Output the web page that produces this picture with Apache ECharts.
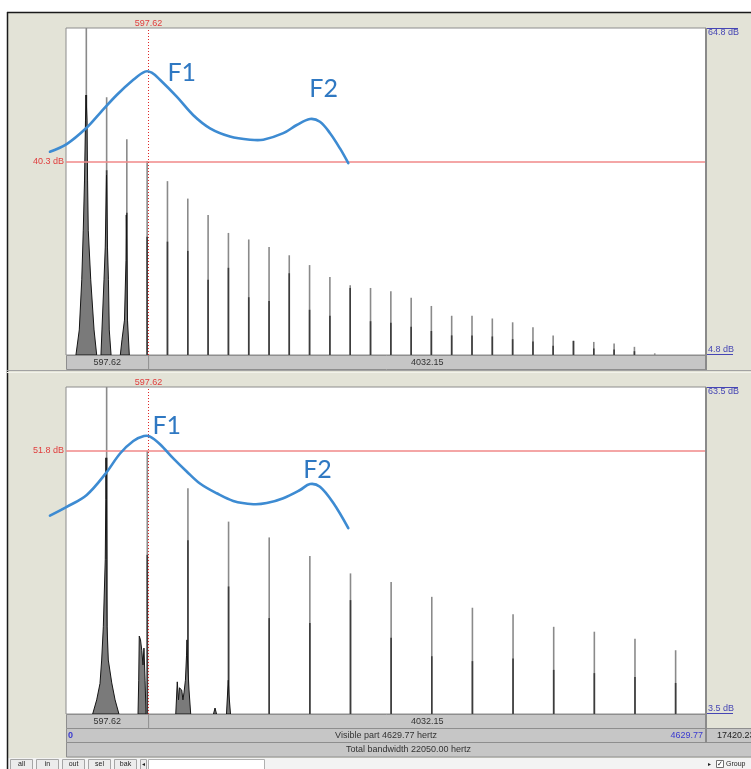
<!DOCTYPE html>
<html><head><meta charset="utf-8">
<script src="https://cdn.jsdelivr.net/npm/echarts@6/dist/echarts.min.js"></script>
<style>html,body{margin:0;padding:0;background:#fff}#c{width:751px;height:769px}</style>
</head><body><div id="c"></div>
<script>
// ---------------- data ----------------
const FMAX = 4629.77;          // visible part (Hz)
const CURSOR = 597.62;         // cursor frequency (Hz)
const TOTAL_BW = '22050.00';
const RIGHT_VALUE = '17420.23';
const topRange = [4.8, 64.8];
const botRange = [3.5, 63.5];
const topCursorDb = 40.3;
const botCursorDb = 51.8;
const topDbLabels = ['64.8 dB', '4.8 dB'];
const botDbLabels = ['63.5 dB', '3.5 dB'];

// upper spectrum: harmonic frequencies, peak tips and darker lower parts (dB)
const topFreq = [147,294,440,587,734,881,1028,1175,1322,1469,1615,1762,1909,2056,2203,2350,2497,2643,2790,2937,3084,3231,3378,3524,3671,3818,3965,4112,4259];
const topTip  = [64.8,52.1,44.4,40.4,36.7,33.5,30.5,27.2,26.0,24.6,23.1,21.3,19.1,17.6,17.1,16.5,15.3,13.8,12.0,12.0,11.5,10.8,9.9,8.4,7.4,7.2,6.9,6.3,5.1];
const topDark = [52.5,38.7,30.9,26.5,25.6,23.9,18.6,20.8,15.4,14.7,19.8,13.1,12.0,17.1,11.0,10.7,10.0,9.2,8.4,8.4,8.2,7.7,7.3,6.5,7.4,6.0,5.8,5.5,4.8];
// leakage skirts around the low harmonics [Hz, dB]
const topLeak = [
  [[72,4.8],[96,9.4],[114,18.6],[125,27.7],[134,36.9],[141,47.9],[145,52.5],[152,47.9],[156,36.9],[161,27.7],[179,18.6],[203,9.4],[222,4.8]],
  [[253,4.8],[260,9.4],[275,18.6],[284,24.6],[293,37.8],[300,24.6],[307,18.6],[313,9.4],[326,4.8]],
  [[393,4.8],[405,7.6],[423,11.2],[434,22.2],[436,30.5],[440,22.2],[445,11.2],[458,4.8]]
];

// lower spectrum
const botFreq = [294,588,882,1176,1470,1764,2058,2352,2646,2940,3234,3528,3822,4116,4410];
const botTip  = [63.5,51.8,44.9,38.8,35.9,32.5,29.3,27.7,25.0,23.0,21.8,19.5,18.6,17.3,15.2];
const botDark = [50.5,32.7,35.4,26.9,21.1,20.2,24.4,17.5,14.1,13.2,13.7,11.6,11.0,10.3,9.2];
const botLeak = [
  [[193,3.5],[222,6.1],[246,9.1],[258,13.4],[270,19.5],[277,25.7],[284,31.8],[288,42.8],[289,50.5],[293,42.8],[295,31.8],[295,25.7],[297,19.5],[306,13.4],[331,9.2],[355,6.1],[383,3.5]],
  [[521,3.5],[526,9.7],[530,17.8],[539,17.1],[548,15.2],[557,12.5],[564,15.6],[572,9.7],[579,3.5]],
  [[794,3.5],[805,9.4],[814,6.1],[821,8.3],[837,7.9],[846,6.1],[854,7.5],[864,9.7],[872,14.3],[875,17.1],[879,13.4],[890,7.9],[902,3.5]],
  [[1067,3.5],[1078,4.6],[1089,3.5]],
  [[1161,3.5],[1170,7.9],[1174,9.7],[1179,7.0],[1190,3.5]]
];

// hand-drawn formant envelopes [Hz, dB]
const topEnv = [[-116,42.1],[5,43.5],[145,46.4],[246,49.2],[367,52.5],[487,55.3],[572,56.8],[620,56.6],[680,55.3],[801,52.2],[921,48.8],[1042,46.4],[1186,44.9],[1331,44.3],[1427,44.3],[1572,45.5],[1669,47.0],[1765,48.1],[1837,47.6],[1910,45.5],[1982,42.7],[2042,40.0]];
const botEnv = [[-116,39.9],[5,41.5],[150,43.7],[289,47.7],[391,51.3],[487,53.6],[564,54.5],[608,54.4],[680,53.0],[776,50.4],[873,48.0],[969,45.8],[1090,44.0],[1210,42.6],[1355,42.0],[1452,42.2],[1572,43.1],[1693,44.6],[1765,45.7],[1837,45.2],[1934,42.2],[2042,37.6]];
const topEnvLabels = [{name:'F1', f:837, db:56.6},{name:'F2', f:1864, db:53.6}];
const botEnvLabels = [{name:'F1', f:729, db:56.4},{name:'F2', f:1819, db:48.3}];

const barLabels = ['597.62', '4032.15'];
const buttons = ['all','in','out','sel','bak'];

// ---------------- layout ----------------
const L = 66, R = 706, T1 = 28, B1 = 355, T2 = 387, B2 = 714;
const FONT = 'Liberation Sans, Arial, sans-serif';
const BEIGE = '#e3e3d7', BAR = '#c6c6c6', BARLINE = '#8e8e8e';
const ENV = '#3d8bd2', ENVTXT = '#2f78c2';

const chart = echarts.init(document.getElementById('c'), null, {renderer:'canvas'});

function spikeRender(yMin){
  return function(params, api){
    const f = api.value(0), tip = api.value(1), dark = api.value(2);
    const b = api.coord([f, yMin]), t = api.coord([f, tip]), d = api.coord([f, dark]);
    return {type:'group', children:[
      {type:'line', shape:{x1:b[0],y1:b[1],x2:t[0],y2:t[1]}, style:{stroke:'#8a8a8a', lineWidth:1.6}},
      {type:'line', shape:{x1:b[0],y1:b[1],x2:d[0],y2:d[1]}, style:{stroke:'#3c3c3c', lineWidth:1.6}}
    ]};
  };
}
function polyRender(polys){
  return function(params, api){
    const pts = polys[params.dataIndex].map(p => api.coord(p));
    return {type:'polygon', shape:{points:pts}, style:{fill:'#7a7a7a', stroke:'#151515', lineWidth:1}};
  };
}
// envelope drawn unclipped (it starts left of the plot, as in the annotated picture)
function envRender(env){
  return function(params, api){
    const pts = env.map(p => api.coord(p));
    return {type:'polyline', shape:{points:pts, smooth:0.35}, style:{stroke:ENV, lineWidth:2.6, fill:null, lineJoin:'round', lineCap:'round'}};
  };
}
function envHost(idx, data, labels, cursorDb){
  return {
    type:'line', xAxisIndex:idx, yAxisIndex:idx, data:data, symbol:'none', z:6,
    lineStyle:{opacity:0, width:0},
    markPoint:{
      symbol:'circle', symbolSize:0, animation:false,
      label:{show:true, position:'inside', formatter:'{b}', color:ENVTXT, fontSize:25, fontFamily:'Lato, Open Sans, sans-serif'},
      data: labels.map(l => ({name:l.name, coord:[l.f, l.db], value:0}))
    },
    markLine:{
      silent:true, symbol:['none','none'], animation:false,
      data:[
        {yAxis:cursorDb, lineStyle:{color:'#f08888', width:1.5, type:'solid'},
         label:{show:true, position:'start', distance:2, formatter:cursorDb.toFixed(1)+' dB', color:'#e03c3c', fontSize:9, fontFamily:FONT}},
        {xAxis:CURSOR, lineStyle:{color:'#e02828', width:1, type:[1,2]},
         label:{show:true, position:'end', distance:0, formatter:CURSOR.toFixed(2), color:'#e03c3c', fontSize:9, fontFamily:FONT}}
      ]
    }
  };
}

const option = {
  animation:false,
  backgroundColor:'#ffffff',
  grid:[
    {left:L, top:T1, width:R-L, height:B1-T1, show:true, backgroundColor:'#fff', borderColor:'#8c8c8c', borderWidth:1},
    {left:L, top:T2, width:R-L, height:B2-T2, show:true, backgroundColor:'#fff', borderColor:'#8c8c8c', borderWidth:1}
  ],
  xAxis:[
    {type:'value', gridIndex:0, min:0, max:FMAX, show:false},
    {type:'value', gridIndex:1, min:0, max:FMAX, show:false}
  ],
  yAxis:[
    {type:'value', gridIndex:0, min:topRange[0], max:topRange[1], show:false},
    {type:'value', gridIndex:1, min:botRange[0], max:botRange[1], show:false}
  ],
  series:[
    {type:'custom', xAxisIndex:0, yAxisIndex:0, clip:true, z:3, encode:{x:0, y:[1,2]},
     data: topFreq.map((f,i)=>[f, topTip[i], topDark[i]]), renderItem: spikeRender(topRange[0])},
    {type:'custom', xAxisIndex:0, yAxisIndex:0, clip:true, z:4, encode:{x:0, y:1},
     data: topLeak.map(p=>[p[0][0], p[0][1]]), renderItem: polyRender(topLeak)},
    {type:'custom', xAxisIndex:1, yAxisIndex:1, clip:true, z:3, encode:{x:0, y:[1,2]},
     data: botFreq.map((f,i)=>[f, botTip[i], botDark[i]]), renderItem: spikeRender(botRange[0])},
    {type:'custom', xAxisIndex:1, yAxisIndex:1, clip:true, z:4, encode:{x:0, y:1},
     data: botLeak.map(p=>[p[0][0], p[0][1]]), renderItem: polyRender(botLeak)},
    envHost(0, topEnv, topEnvLabels, topCursorDb),
    envHost(1, botEnv, botEnvLabels, botCursorDb),
    {type:'custom', xAxisIndex:0, yAxisIndex:0, clip:false, z:7, encode:{x:0, y:1},
     data:[topEnv[0]], renderItem: envRender(topEnv)},
    {type:'custom', xAxisIndex:1, yAxisIndex:1, clip:false, z:7, encode:{x:0, y:1},
     data:[botEnv[0]], renderItem: envRender(botEnv)}
  ]
};
chart.setOption(option);

// ---------------- window decorations ----------------
const cx = chart.convertToPixel({xAxisIndex:0}, CURSOR);
const g = [];
function txt(x, y, s, o){ g.push(Object.assign({type:'text', x:x, y:y, z:50, style:Object.assign({text:s, fontSize:9, fontFamily:FONT, fill:'#333', textAlign:'left', textVerticalAlign:'middle'}, o||{})})); }
function line(x1,y1,x2,y2,c,w,z){ g.push({type:'line', z:z==null?40:z, shape:{x1,y1,x2,y2}, style:{stroke:c, lineWidth:w||1}}); }
function rect(x,y,w,h,fill,stroke,z){ g.push({type:'rect', z:z==null?30:z, shape:{x,y,width:w,height:h}, style:{fill:fill, stroke:stroke||null, lineWidth:1}}); }

// frame background
rect(7,12,744,746,BEIGE,null,-10);
line(7,12.5,751,12.5,'#1a1a1a',1.5);
line(7.5,12,7.5,769,'#1a1a1a',1.5);

// upper info bar
rect(L+0.5,B1+0.5,R-L,14,BAR,BARLINE);
line(cx,B1,cx,B1+14.5,BARLINE,1);
txt((L+cx)/2, B1+8, barLabels[0], {textAlign:'center'});
txt((cx+R)/2, B1+8, barLabels[1], {textAlign:'center'});
line(R,T1,R,B1+15,'#8a8a8a',2);
line(7,370.5,751,370.5,'#a2a2a2',1);
line(7,372.5,751,372.5,'#f2f2ea',1);

// lower info bars
rect(L+0.5,B2+0.5,R-L,14,BAR,BARLINE);
line(cx,B2,cx,B2+14.5,BARLINE,1);
txt((L+cx)/2, B2+8, barLabels[0], {textAlign:'center'});
txt((cx+R)/2, B2+8, barLabels[1], {textAlign:'center'});
rect(L+0.5,728.5,751-L,14,BAR,BARLINE);
rect(L+0.5,742.5,751-L,14.5,BAR,BARLINE);
line(R,T2,R,742.5,'#8a8a8a',2);
txt(L+2, 736, '0', {fill:'#3a3ad0', fontWeight:'bold'});
txt((L+R)/2, 736, 'Visible part ' + FMAX.toFixed(2) + ' hertz', {textAlign:'center'});
txt(R-3, 736, FMAX.toFixed(2), {textAlign:'right', fill:'#3a3ad0'});
txt(R+11, 736, RIGHT_VALUE, {fill:'#222'});
txt((L+751)/2, 750, 'Total bandwidth ' + TOTAL_BW + ' hertz', {textAlign:'center'});

// dB range labels (blue with over/underline)
const dbCol = '#4646b4';
function dbLabels(T,B,labels){
  txt(R+2, T+5, labels[0], {fill:dbCol});
  line(R+1, T+0.5, R+32, T+0.5, dbCol, 1);
  txt(R+2, B-5, labels[1], {fill:dbCol});
  line(R+1, B-0.5, R+27, B-0.5, dbCol, 1);
}
dbLabels(T1,B1,topDbLabels);
dbLabels(T2,B2,botDbLabels);

// bottom button row
rect(7.5,758,744,11,'#f3f3f3',null,30);
let bx = 10;
buttons.forEach(b => {
  const w = 22;
  rect(bx+0.5,759.5,w,10,'#ececec','#a6a6a6');
  txt(bx+w/2+0.5, 764.5, b, {textAlign:'center', fontSize:7, fill:'#222'});
  bx += w + 4;
});
rect(bx+0.5,759.5,6,10,'#ececec','#a6a6a6');
txt(bx+3.5,764.5,'\u25C2',{textAlign:'center', fontSize:6, fill:'#222'});
rect(bx+8.5,759.5,116,10,'#ffffff','#b0b0b0');
txt(709,764.5,'\u25B8',{textAlign:'center', fontSize:6, fill:'#222'});
rect(716.5,760.5,7,7,'#ffffff','#707070');
txt(720,764,'\u2713',{textAlign:'center', fontSize:7, fill:'#222'});
txt(726,764.5,'Group',{fontSize:7, fill:'#222'});

chart.setOption({graphic:{elements:g}});
</script>
</body></html>
